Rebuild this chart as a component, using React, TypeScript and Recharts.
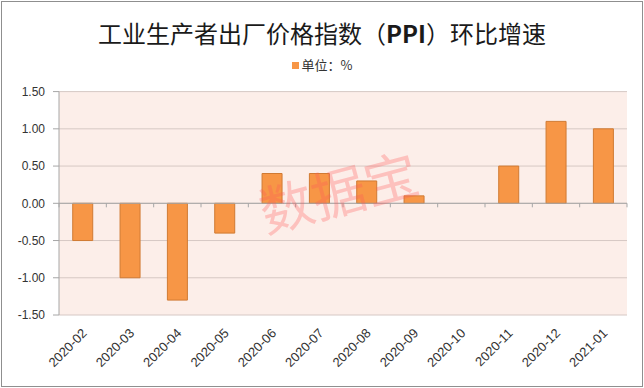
import React from "react";
import { BarChart, Bar, XAxis, YAxis, CartesianGrid, ReferenceLine, Legend } from "recharts";

const months = ["2020-02", "2020-03", "2020-04", "2020-05", "2020-06", "2020-07", "2020-08", "2020-09", "2020-10", "2020-11", "2020-12", "2021-01"];
const ppiMoM = [-0.5, -1.0, -1.3, -0.4, 0.4, 0.4, 0.3, 0.1, 0.0, 0.5, 1.1, 1.0];
const yTicks = [-1.5, -1.0, -0.5, 0, 0.5, 1.0, 1.5];
const seriesName = "单位：%";

const data = months.map((m, i) => ({ month: m, value: ppiMoM[i] }));

const BAR_FILL = "#F79646";
const NUM_FONT = "'Liberation Sans', Arial, sans-serif";
const CJK_FONT = "'Noto Sans CJK SC', 'Noto Sans', sans-serif";

const XTick = (props: any) => {
  const { x, y, payload } = props;
  return (
    <text
      transform={`translate(${x + 5},${y + 11}) rotate(-45)`}
      textAnchor="end"
      fontSize={13}
      fontFamily={NUM_FONT}
      fill="#333"
    >
      {payload.value}
    </text>
  );
};

const ZeroLine = (props: any) => {
  const { x1, y1, x2, y2 } = props;
  const n = months.length;
  const step = (x2 - x1) / n;
  const ticks = [];
  for (let i = 0; i <= n; i++) {
    const tx = x1 + step * i;
    ticks.push(<line key={i} x1={tx} x2={tx} y1={y1} y2={y1 + 4} stroke="#A6A6A6" strokeWidth={1} />);
  }
  return (
    <g>
      <line x1={x1} y1={y1} x2={x2} y2={y2} stroke="#A6A6A6" strokeWidth={1} />
      {ticks}
    </g>
  );
};

const LegendContent = () => (
  <div style={{ display: "flex", justifyContent: "center", alignItems: "center", width: 644 }}>
    <span style={{ display: "inline-block", width: 7, height: 7, background: BAR_FILL, marginRight: 3 }} />
    <span style={{ fontFamily: CJK_FONT, fontSize: 13, color: "#333", lineHeight: "16px" }}>{seriesName}</span>
  </div>
);

export default function App() {
  return (
    <div style={{ position: "absolute", left: 0, top: 0, width: 644, height: 388, background: "#fff", overflow: "hidden" }}>
      <div
        style={{
          position: "absolute",
          left: 1,
          top: 1,
          width: 642,
          height: 386,
          border: "1px solid #8f8f8f",
          boxSizing: "border-box",
        }}
      />
      <div
        style={{
          position: "absolute",
          left: 0,
          top: 17,
          width: 644,
          textAlign: "center",
          fontFamily: CJK_FONT,
          fontSize: 24,
          lineHeight: "32px",
          color: "#1a1a1a",
        }}
      >
        工业生产者出厂价格指数（<b>PPI</b>）环比增速
      </div>
      <BarChart
        width={644}
        height={388}
        data={data}
        margin={{ top: 91.6, right: 17, bottom: 0, left: 0 }}
        barCategoryGap="29%"
      >
        <CartesianGrid vertical={false} stroke="#D6C8C4" fill="#FCEEE9" fillOpacity={1} />
        <XAxis dataKey="month" height={73} axisLine={false} tickLine={false} interval={0} tick={<XTick />} />
        <YAxis
          width={59}
          domain={[-1.5, 1.5]}
          ticks={yTicks}
          tickFormatter={(v: number) => v.toFixed(2)}
          axisLine={{ stroke: "#A6A6A6" }}
          tickLine={{ stroke: "#A6A6A6" }}
          tickSize={6}
          tickMargin={8}
          tick={{ fontSize: 12, fontFamily: NUM_FONT, fill: "#333" }}
        />
        <Legend
          verticalAlign="middle"
          align="center"
          wrapperStyle={{ position: "absolute", top: 57, left: 0, width: 644 }}
          content={<LegendContent />}
        />
        <ReferenceLine y={0} shape={<ZeroLine />} />
        <Bar dataKey="value" name={seriesName} fill={BAR_FILL} stroke="#D07A33" strokeWidth={1} isAnimationActive={false} />
      </BarChart>
      <div
        style={{
          position: "absolute",
          left: 338,
          top: 190,
          transform: "translate(-50%, -50%) rotate(-15deg)",
          fontFamily: CJK_FONT,
          fontSize: 54,
          lineHeight: "60px",
          color: "rgba(255, 90, 90, 0.3)",
          whiteSpace: "nowrap",
          pointerEvents: "none",
        }}
      >
        数据宝
      </div>
    </div>
  );
}
